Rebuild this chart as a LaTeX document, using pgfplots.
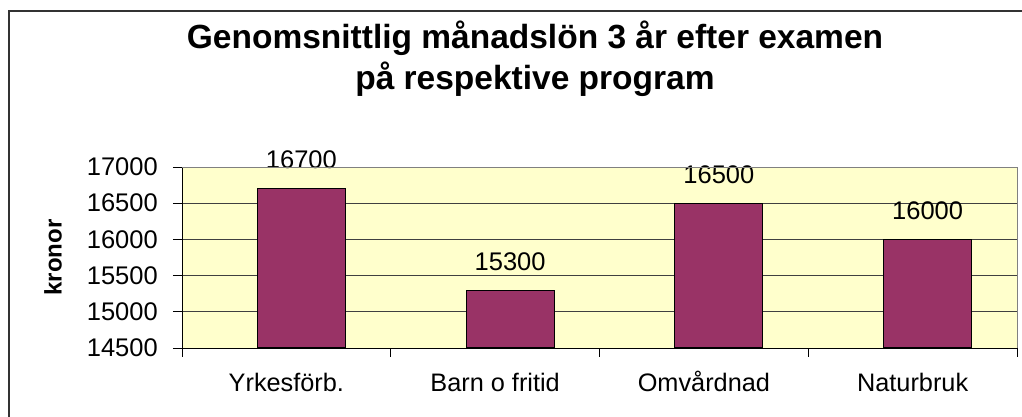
\documentclass[border=0pt]{standalone}
\usepackage{fontspec}
\setmainfont{Liberation Sans}
\usepackage{pgfplots}
\pgfplotsset{compat=1.18}
\definecolor{plotbg}{HTML}{FFFFCC}
\definecolor{barcol}{HTML}{993366}
\begin{document}
\begin{tikzpicture}[x=1pt,y=1pt]
\useasboundingbox (0,0) rectangle (1022,417);
\draw[line width=1.2pt, black!80] (9,0) -- (9,406) -- (1022,406);
\node[font=\bfseries\fontsize{33.5}{38}\selectfont, anchor=base, inner sep=0pt] at (535,368.3) {Genomsnittlig månadslön 3 år efter examen};
\node[font=\bfseries\fontsize{33.5}{38}\selectfont, anchor=base, inner sep=0pt] at (535,327) {på respektive program};
\begin{axis}[
  at={(182pt,69pt)}, anchor=south west,
  scale only axis, width=835pt, height=181pt,
  xmin=-0.5, xmax=3.5, ymin=14500, ymax=17000,
  ytick={14500,15000,15500,16000,16500,17000},
  scaled y ticks=false,
  xtick={-0.5,0.5,1.5,2.5,3.5},
  x tick label as interval,
  xticklabels={Yrkesförb.,Barn o fritid,Omvårdnad,Naturbruk},
  axis x line*=bottom, axis y line*=left,
  x axis line style={-}, y axis line style={-},
  axis line style={black, line width=0.8pt},
  tick align=outside, major tick length=9pt,
  tick style={black, line width=0.8pt},
  ymajorgrids, grid style={black!75, line width=0.8pt},
  axis background/.style={fill=plotbg},
  tick label style={font=\fontsize{25.5}{30}\selectfont},
  /pgf/number format/assume math mode=true,
  /pgf/number format/1000 sep={},
  xticklabel style={font=\fontsize{25.3}{30}\selectfont, anchor=base, yshift=-35pt},
  yticklabel style={anchor=east, inner sep=0pt, xshift=-15pt},
  ylabel={kronor},
  ylabel style={font=\bfseries\fontsize{24}{28}\selectfont, at={(axis description cs:-0.1545,0.5)}, anchor=center},
  ybar, bar width=88pt,
  clip=true, clip mode=individual,
  nodes near coords,
  nodes near coords style={font=\fontsize{25.5}{30}\selectfont, anchor=south, inner sep=0pt, yshift=19pt},
  after end axis/.code={
    \draw[gray, line width=0.8pt] (rel axis cs:0,1) -- (rel axis cs:1,1) -- (rel axis cs:1,0);
  },
]
\addplot[fill=barcol, draw=black, line width=1pt, bar shift=15pt] coordinates {(0,16700) (1,15300) (2,16500) (3,16000)};
\end{axis}
\end{tikzpicture}
\end{document}
